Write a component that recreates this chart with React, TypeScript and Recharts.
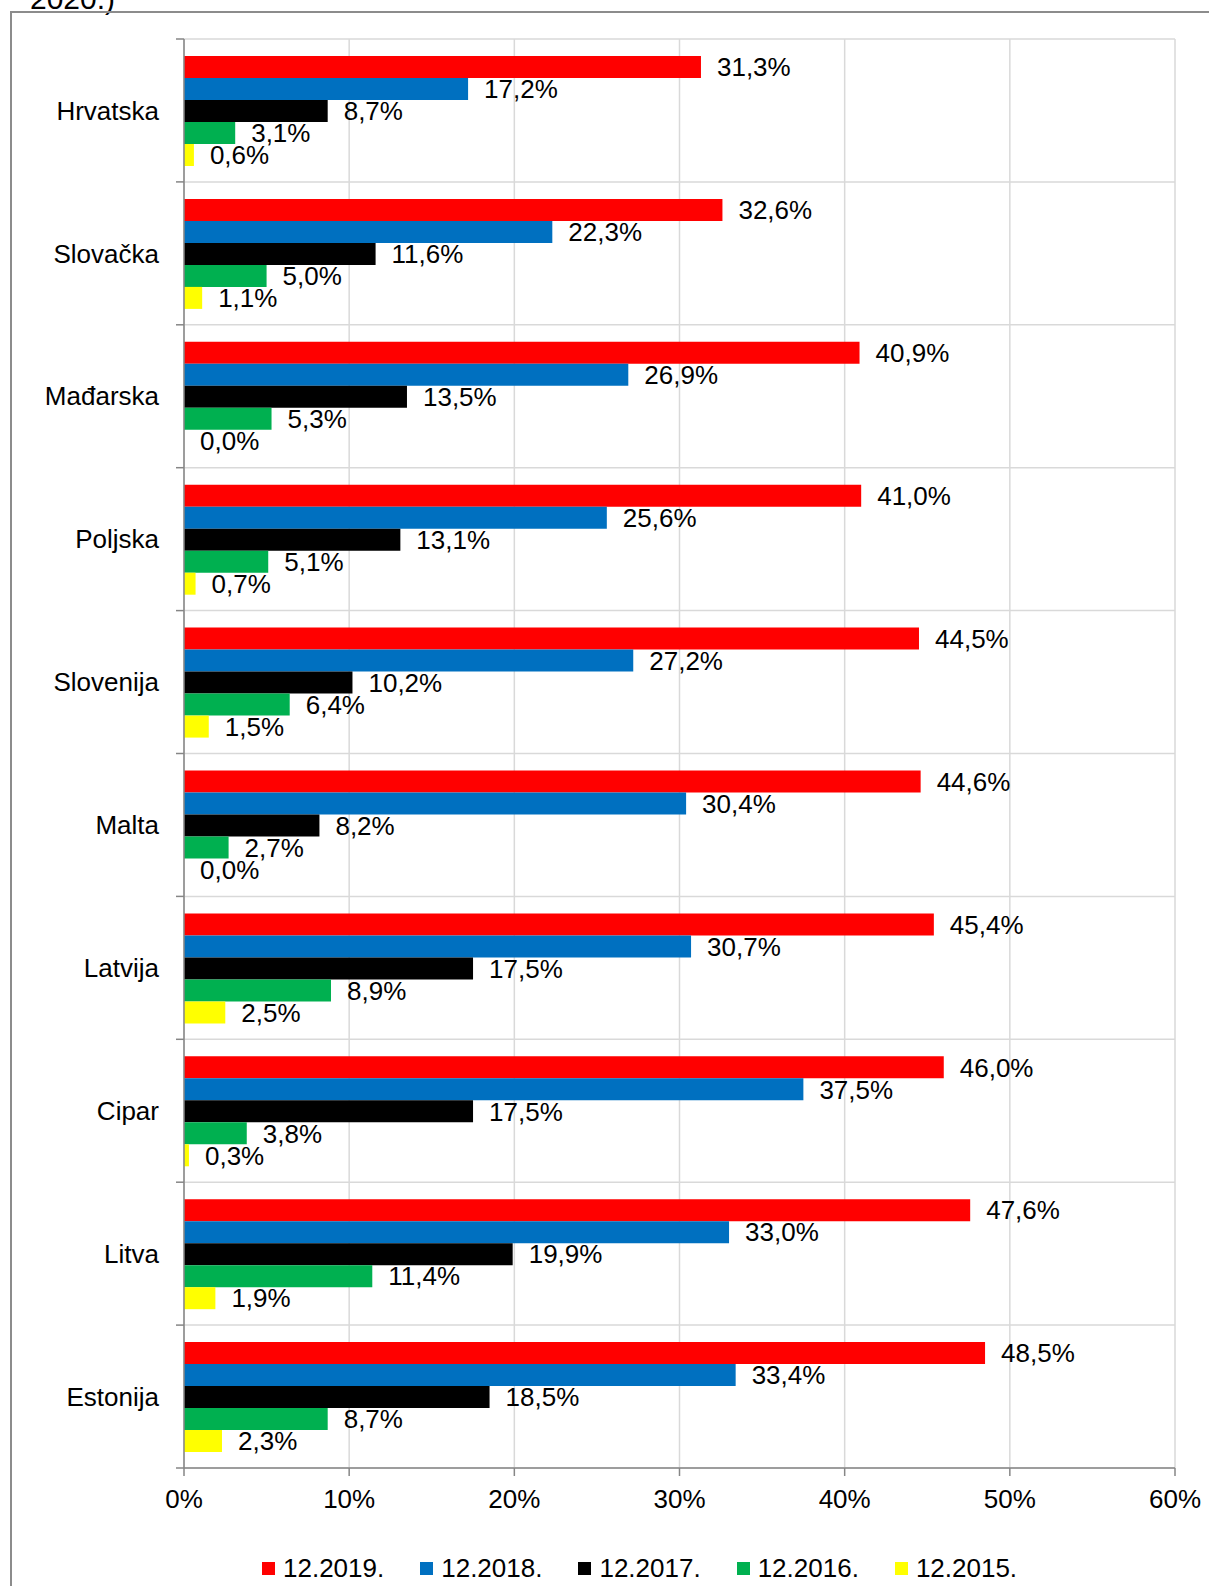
import { BarChart, Bar, XAxis, YAxis, CartesianGrid, Legend, LabelList } from 'recharts'

const categories = ['Hrvatska', 'Slovačka', 'Mađarska', 'Poljska', 'Slovenija', 'Malta', 'Latvija', 'Cipar', 'Litva', 'Estonija']
const values2019 = [31.3, 32.6, 40.9, 41.0, 44.5, 44.6, 45.4, 46.0, 47.6, 48.5]
const values2018 = [17.2, 22.3, 26.9, 25.6, 27.2, 30.4, 30.7, 37.5, 33.0, 33.4]
const values2017 = [8.7, 11.6, 13.5, 13.1, 10.2, 8.2, 17.5, 17.5, 19.9, 18.5]
const values2016 = [3.1, 5.0, 5.3, 5.1, 6.4, 2.7, 8.9, 3.8, 11.4, 8.7]
const values2015 = [0.6, 1.1, 0.0, 0.7, 1.5, 0.0, 2.5, 0.3, 1.9, 2.3]
const xTicks = [0, 10, 20, 30, 40, 50, 60]

const series = [
  { key: 'y2019', name: '12.2019.', color: '#FF0000', values: values2019 },
  { key: 'y2018', name: '12.2018.', color: '#0070C0', values: values2018 },
  { key: 'y2017', name: '12.2017.', color: '#000000', values: values2017 },
  { key: 'y2016', name: '12.2016.', color: '#00B050', values: values2016 },
  { key: 'y2015', name: '12.2015.', color: '#FFFF00', values: values2015 },
]

const data = categories.map((name, i) => {
  const row: Record<string, string | number> = { name }
  series.forEach((s) => {
    row[s.key] = s.values[i]
  })
  return row
})

const FONT = '"Liberation Sans", Arial, sans-serif'
const AXIS_GREY = '#868686'
const TICK_MARGIN = 25
const TICK_LEN = 8

const fmt = (v: any) => `${Number(v).toFixed(1).replace('.', ',')}%`

// category label plus Excel-style tick marks on the band boundaries
function CategoryTick(props: any) {
  const { x, y, payload, index } = props
  const half = payload.offset || 0
  const axisX = x + TICK_MARGIN
  return (
    <g>
      <line x1={axisX - TICK_LEN} x2={axisX} y1={y - half} y2={y - half} stroke={AXIS_GREY} strokeWidth={1.5} />
      {index === categories.length - 1 && (
        <line x1={axisX - TICK_LEN} x2={axisX} y1={y + half} y2={y + half} stroke={AXIS_GREY} strokeWidth={1.5} />
      )}
      <text x={x} y={y} dy="0.355em" textAnchor="end" fontSize={26} fontFamily={FONT} fill="#000">
        {payload.value}
      </text>
    </g>
  )
}

function ValueLabel(props: any) {
  const { x, y, height, value } = props
  const width = Math.max(props.width, 0)
  const w = width < 0.5 ? 0 : width
  return (
    <text
      x={x + w + 16}
      y={y + height / 2}
      dy="0.355em"
      textAnchor="start"
      fontSize={26}
      fontFamily={FONT}
      fill="#000"
    >
      {fmt(value)}
    </text>
  )
}

function renderLegend() {
  return (
    <div style={{ display: 'flex', height: 30, alignItems: 'center', fontFamily: FONT, fontSize: 26 }}>
      {series.map((s) => (
        <div key={s.key} style={{ display: 'flex', alignItems: 'center', marginRight: 36 }}>
          <span style={{ width: 13, height: 13, background: s.color, display: 'inline-block', marginRight: 8 }} />
          <span style={{ color: '#000' }}>{s.name}</span>
        </div>
      ))}
    </div>
  )
}

export default function App() {
  return (
    <div style={{ position: 'absolute', left: 0, top: 0, width: 1209, height: 1586, background: '#fff', overflow: 'hidden' }}>
      <svg style={{ position: 'absolute', left: 0, top: 0 }} width={400} height={20}>
        <text x={30} y={8.5} fontSize={30} fontFamily={FONT} fill="#000">2020.)</text>
      </svg>
      <div
        style={{
          position: 'absolute',
          left: 10,
          top: 11,
          width: 1300,
          height: 1700,
          border: '2px solid #8c8c8c',
          boxSizing: 'border-box',
        }}
      />
      <div style={{ position: 'absolute', left: 0, top: 0 }}>
        <BarChart
          width={1209}
          height={1586}
          data={data}
          layout="vertical"
          margin={{ top: 39, right: 34, bottom: 10, left: 0 }}
          barCategoryGap={17}
          barGap={0}
          style={{ fontFamily: FONT }}
        >
          <CartesianGrid
            stroke="#d9d9d9"
            strokeWidth={1.5}
            horizontalCoordinatesGenerator={({ offset }: any) =>
              categories.map((_, i) => offset.top + (offset.height * i) / categories.length).concat(offset.top + offset.height)
            }
          />
          <YAxis
            type="category"
            dataKey="name"
            width={184}
            axisLine={{ stroke: AXIS_GREY, strokeWidth: 1.5 }}
            tickLine={false}
            tickSize={0}
            tickMargin={TICK_MARGIN}
            tick={<CategoryTick />}
          />
          <XAxis
            type="number"
            domain={[0, 60]}
            ticks={xTicks}
            tickFormatter={(v) => `${v}%`}
            height={78}
            tickSize={TICK_LEN}
            tickMargin={14}
            tick={{ fill: '#000', fontSize: 26, fontFamily: FONT }}
            tickLine={{ stroke: AXIS_GREY, strokeWidth: 1.5 }}
            axisLine={{ stroke: AXIS_GREY, strokeWidth: 1.5 }}
          />
          <Legend
            verticalAlign="bottom"
            content={renderLegend}
            wrapperStyle={{ left: 262, bottom: 3, width: 'auto' }}
          />
          {series.map((s) => (
            <Bar key={s.key} dataKey={s.key} name={s.name} fill={s.color} minPointSize={0.01} isAnimationActive={false}>
              <LabelList dataKey={s.key} content={<ValueLabel />} />
            </Bar>
          ))}
        </BarChart>
      </div>
    </div>
  )
}
